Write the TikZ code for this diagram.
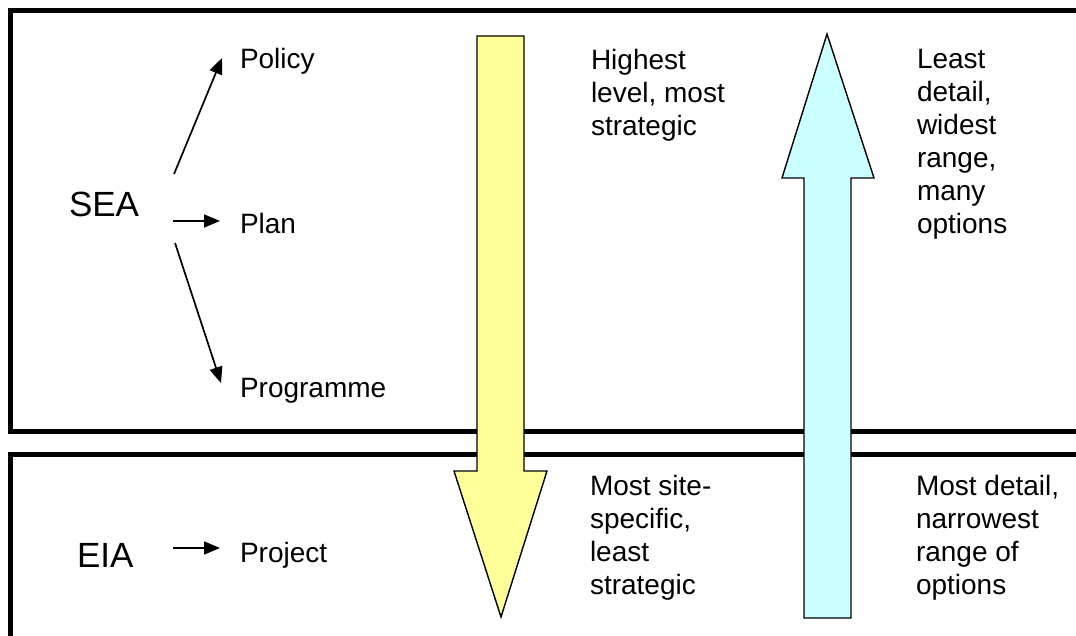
\documentclass[tikz,border=0pt]{standalone}
\usepackage{fontspec}
\setmainfont{Liberation Sans}
\usetikzlibrary{arrows.meta}
\definecolor{arrowyellow}{HTML}{FFFF99}
\definecolor{arrowcyan}{HTML}{CCFFFF}
\newcommand\bodysize{\fontsize{28}{33}\selectfont}
\newcommand\bigsize{\fontsize{35}{40}\selectfont}
\tikzset{
  panel/.style={draw=black, line width=5pt},
  bigarrow/.style={draw=black, line width=1.4pt, line join=miter},
  label/.style={inner sep=0pt, outer sep=0pt, anchor=base west, font=\bodysize},
  acronym/.style={inner sep=0pt, outer sep=0pt, anchor=base west, font=\bigsize},
  note/.style={inner sep=0pt, outer sep=0pt, anchor=north west, align=left, font=\bodysize},
  conn/.style={draw=black, line width=1.7pt, -{Triangle[length=16pt,width=13pt]}}
}
\begin{document}
\begin{tikzpicture}[x=1pt,y=-1pt]
\useasboundingbox (0,0) rectangle (1076,636);
\fill[white] (0,0) rectangle (1076,636);
\begin{scope}
\clip (0,0) rectangle (1076,636);
% panels
\draw[panel] (10.5,11) rectangle (1100,431);
\draw[panel] (10.5,454) rectangle (1100,700);
\end{scope}
% yellow down arrow
\draw[bigarrow, fill=arrowyellow] (477,36) -- (524,36) -- (524,471) -- (547,471) -- (501,617) -- (454,471) -- (477,471) -- cycle;
% cyan up arrow
\draw[bigarrow, fill=arrowcyan] (827,34) -- (874,178) -- (851,178) -- (851,618) -- (804,618) -- (804,178) -- (782,178) -- cycle;
% left labels
\node[acronym] (sea) at (69,217) {SEA};
\node[acronym] (eia) at (77,567) {EIA};
\node[label] (policy) at (240,69) {Policy};
\node[label] (plan) at (240,234) {Plan};
\node[label] (programme) at (240,397) {Programme};
\node[label] (project) at (240,562) {Project};
% connectors
\draw[conn] ([shift={(35,-43)}]sea.base east) -- ([shift={(-18,-11)}]policy.base west);
\draw[conn] ([shift={(34,4)}]sea.base east) -- ([shift={(-20,-13)}]plan.base west);
\draw[conn] ([shift={(36,26)}]sea.base east) -- ([shift={(-19,-14)}]programme.base west);
\draw[conn] ([shift={(40,-19)}]eia.base east) -- ([shift={(-20,-14)}]project.base west);
% notes
\node[note] (highest) at (591,49) {Highest\\level, most\\strategic};
\node[note] (least) at (917,49) {Least\\detail,\\widest\\range,\\many\\options};
\node[note] (site) at (590,475) {Most site-\\specific,\\least\\strategic};
\node[note] (most) at (916,475) {Most detail,\\narrowest\\range of\\options};
\end{tikzpicture}
\end{document}
